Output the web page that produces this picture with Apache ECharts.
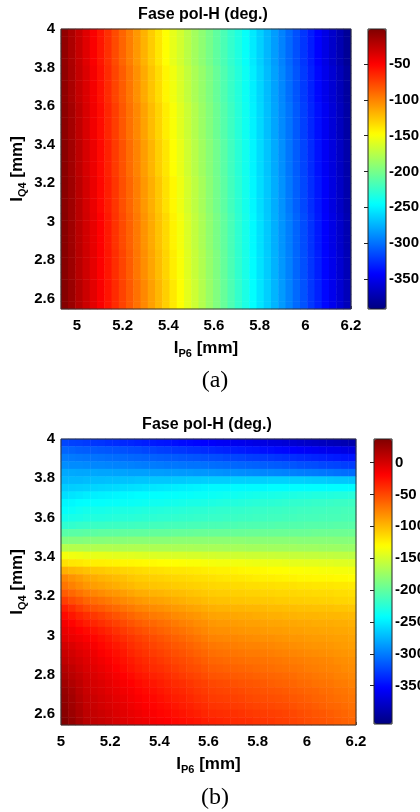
<!DOCTYPE html>
<html>
<head>
<meta charset="utf-8">
<title>Fase pol-H</title>
<script src="https://cdn.jsdelivr.net/npm/echarts@6.0.0/dist/echarts.min.js"></script>
<style>
  html, body { margin: 0; padding: 0; background: #fff; }
  #main { width: 420px; height: 812px; }
</style>
</head>
<body>
<div id="main"></div>
<script>
// axis ticks
const xTicks = [5, 5.2, 5.4, 5.6, 5.8, 6, 6.2];
const yTicks = [2.6, 2.8, 3, 3.2, 3.4, 3.6, 3.8, 4];
const cbTicksA = [-50, -100, -150, -200, -250, -300, -350];
const cbTicksB = [0, -50, -100, -150, -200, -250, -300, -350];

// axis extents
const xRangeA = [4.93, 6.2];
const xRangeB = [5, 6.2];
const yRange = [2.545, 4];
const cbRangeA = [-392, -1];
const cbRangeB = [-410, 37];

// phase (deg.), rows from top (I_Q4 = 4) to bottom, columns from left to right
const phaseA = [
  [-8,-18,-28,-38,-48,-58,-68,-78,-88,-98,-108,-118,-128,-138,-148,-157,-165,-174,-183,-191,-200,-209,-217,-226,-234,-243,-253,-263,-273,-283,-293,-303,-313,-323,-333,-343,-353,-363,-373,-383],
  [-8,-18,-28,-38,-48,-58,-68,-78,-88,-98,-108,-118,-128,-138,-148,-157,-165,-174,-183,-191,-200,-209,-217,-226,-234,-243,-253,-263,-273,-283,-293,-303,-313,-323,-333,-343,-353,-363,-373,-383],
  [-8,-18,-28,-38,-48,-58,-68,-78,-88,-98,-108,-118,-128,-138,-148,-157,-165,-174,-183,-191,-200,-209,-217,-226,-234,-243,-253,-263,-273,-283,-293,-303,-313,-323,-333,-343,-353,-363,-373,-383],
  [-8,-18,-28,-38,-48,-58,-68,-78,-88,-98,-108,-118,-128,-138,-148,-157,-165,-174,-183,-191,-200,-209,-217,-226,-234,-243,-253,-263,-273,-283,-293,-303,-313,-323,-333,-343,-353,-363,-373,-383],
  [-8,-18,-28,-38,-48,-58,-68,-78,-88,-98,-108,-118,-128,-138,-148,-157,-165,-174,-183,-191,-200,-209,-217,-226,-234,-243,-253,-263,-273,-283,-293,-303,-313,-323,-333,-343,-353,-363,-373,-383],
  [-7,-17,-27,-36,-46,-56,-66,-76,-85,-95,-105,-115,-125,-134,-144,-153,-162,-171,-180,-188,-197,-206,-215,-224,-232,-241,-251,-261,-271,-281,-291,-301,-311,-321,-331,-341,-351,-360,-370,-380],
  [-7,-17,-27,-36,-46,-56,-66,-76,-85,-95,-105,-115,-125,-134,-144,-153,-162,-171,-180,-188,-197,-206,-215,-224,-232,-241,-251,-261,-271,-281,-291,-301,-311,-321,-331,-341,-351,-360,-370,-380],
  [-7,-17,-27,-36,-46,-56,-66,-76,-85,-95,-105,-115,-125,-134,-144,-153,-162,-171,-180,-188,-197,-206,-215,-224,-232,-241,-251,-261,-271,-281,-291,-301,-311,-321,-331,-341,-351,-360,-370,-380],
  [-7,-17,-27,-36,-46,-56,-66,-76,-85,-95,-105,-115,-125,-134,-144,-153,-162,-171,-180,-188,-197,-206,-215,-224,-232,-241,-251,-261,-271,-281,-291,-301,-311,-321,-331,-341,-351,-360,-370,-380],
  [-7,-17,-27,-36,-46,-56,-66,-76,-85,-95,-105,-115,-125,-134,-144,-153,-162,-171,-180,-188,-197,-206,-215,-224,-232,-241,-251,-261,-271,-281,-291,-301,-311,-321,-331,-341,-351,-360,-370,-380],
  [-6,-15,-25,-35,-45,-54,-64,-73,-83,-93,-102,-112,-122,-131,-141,-150,-159,-168,-177,-186,-195,-204,-213,-222,-231,-240,-250,-260,-270,-280,-290,-299,-309,-319,-329,-338,-348,-358,-368,-378],
  [-6,-15,-25,-35,-45,-54,-64,-73,-83,-93,-102,-112,-122,-131,-141,-150,-159,-168,-177,-186,-195,-204,-213,-222,-231,-240,-250,-260,-270,-280,-290,-299,-309,-319,-329,-338,-348,-358,-368,-378],
  [-6,-15,-25,-35,-45,-54,-64,-73,-83,-93,-102,-112,-122,-131,-141,-150,-159,-168,-177,-186,-195,-204,-213,-222,-231,-240,-250,-260,-270,-280,-290,-299,-309,-319,-329,-338,-348,-358,-368,-378],
  [-6,-15,-25,-35,-45,-54,-64,-73,-83,-93,-102,-112,-122,-131,-141,-150,-159,-168,-177,-186,-195,-204,-213,-222,-231,-240,-250,-260,-270,-280,-290,-299,-309,-319,-329,-338,-348,-358,-368,-378],
  [-6,-15,-25,-35,-45,-54,-64,-73,-83,-93,-102,-112,-122,-131,-141,-150,-159,-168,-177,-186,-195,-204,-213,-222,-231,-240,-250,-260,-270,-280,-290,-299,-309,-319,-329,-338,-348,-358,-368,-378],
  [-5,-14,-24,-34,-43,-53,-62,-72,-81,-91,-100,-110,-119,-129,-138,-148,-156,-166,-175,-184,-193,-202,-211,-221,-230,-239,-249,-259,-268,-278,-288,-298,-308,-317,-327,-337,-347,-356,-366,-376],
  [-5,-14,-24,-34,-43,-53,-62,-72,-81,-91,-100,-110,-119,-129,-138,-148,-156,-166,-175,-184,-193,-202,-211,-221,-230,-239,-249,-259,-268,-278,-288,-298,-308,-317,-327,-337,-347,-356,-366,-376],
  [-5,-14,-24,-34,-43,-53,-62,-72,-81,-91,-100,-110,-119,-129,-138,-148,-156,-166,-175,-184,-193,-202,-211,-221,-230,-239,-249,-259,-268,-278,-288,-298,-308,-317,-327,-337,-347,-356,-366,-376],
  [-5,-14,-24,-34,-43,-53,-62,-72,-81,-91,-100,-110,-119,-129,-138,-148,-156,-166,-175,-184,-193,-202,-211,-221,-230,-239,-249,-259,-268,-278,-288,-298,-308,-317,-327,-337,-347,-356,-366,-376],
  [-5,-14,-24,-34,-43,-53,-62,-72,-81,-91,-100,-110,-119,-129,-138,-148,-156,-166,-175,-184,-193,-202,-211,-221,-230,-239,-249,-259,-268,-278,-288,-298,-308,-317,-327,-337,-347,-356,-366,-376],
  [-5,-13,-23,-33,-42,-52,-61,-70,-80,-89,-98,-108,-117,-126,-136,-145,-154,-164,-173,-182,-192,-201,-210,-220,-229,-238,-248,-258,-267,-277,-287,-297,-307,-316,-326,-335,-345,-355,-365,-375],
  [-5,-13,-23,-33,-42,-52,-61,-70,-80,-89,-98,-108,-117,-126,-136,-145,-154,-164,-173,-182,-192,-201,-210,-220,-229,-238,-248,-258,-267,-277,-287,-297,-307,-316,-326,-335,-345,-355,-365,-375],
  [-5,-13,-23,-33,-42,-52,-61,-70,-80,-89,-98,-108,-117,-126,-136,-145,-154,-164,-173,-182,-192,-201,-210,-220,-229,-238,-248,-258,-267,-277,-287,-297,-307,-316,-326,-335,-345,-355,-365,-375],
  [-5,-13,-23,-33,-42,-52,-61,-70,-80,-89,-98,-108,-117,-126,-136,-145,-154,-164,-173,-182,-192,-201,-210,-220,-229,-238,-248,-258,-267,-277,-287,-297,-307,-316,-326,-335,-345,-355,-365,-375],
  [-5,-13,-23,-33,-42,-52,-61,-70,-80,-89,-98,-108,-117,-126,-136,-145,-154,-164,-173,-182,-192,-201,-210,-220,-229,-238,-248,-258,-267,-277,-287,-297,-307,-316,-326,-335,-345,-355,-365,-375],
  [-4,-13,-23,-32,-41,-50,-59,-69,-78,-87,-96,-106,-115,-124,-133,-143,-152,-162,-171,-180,-190,-199,-208,-218,-228,-237,-247,-257,-266,-276,-286,-295,-305,-314,-324,-334,-344,-353,-363,-373],
  [-4,-13,-23,-32,-41,-50,-59,-69,-78,-87,-96,-106,-115,-124,-133,-143,-152,-162,-171,-180,-190,-199,-208,-218,-228,-237,-247,-257,-266,-276,-286,-295,-305,-314,-324,-334,-344,-353,-363,-373],
  [-4,-13,-23,-32,-41,-50,-59,-69,-78,-87,-96,-106,-115,-124,-133,-143,-152,-162,-171,-180,-190,-199,-208,-218,-228,-237,-247,-257,-266,-276,-286,-295,-305,-314,-324,-334,-344,-353,-363,-373],
  [-4,-13,-23,-32,-41,-50,-59,-69,-78,-87,-96,-106,-115,-124,-133,-143,-152,-162,-171,-180,-190,-199,-208,-218,-228,-237,-247,-257,-266,-276,-286,-295,-305,-314,-324,-334,-344,-353,-363,-373],
  [-4,-13,-23,-32,-41,-50,-59,-69,-78,-87,-96,-106,-115,-124,-133,-143,-152,-162,-171,-180,-190,-199,-208,-218,-228,-237,-247,-257,-266,-276,-286,-295,-305,-314,-324,-334,-344,-353,-363,-373],
  [-4,-12,-22,-31,-40,-49,-58,-67,-76,-85,-95,-104,-113,-122,-131,-141,-150,-160,-169,-178,-188,-197,-207,-217,-227,-236,-246,-256,-265,-275,-285,-294,-304,-313,-323,-332,-342,-351,-361,-371],
  [-4,-12,-22,-31,-40,-49,-58,-67,-76,-85,-95,-104,-113,-122,-131,-141,-150,-160,-169,-178,-188,-197,-207,-217,-227,-236,-246,-256,-265,-275,-285,-294,-304,-313,-323,-332,-342,-351,-361,-371],
  [-4,-12,-22,-31,-40,-49,-58,-67,-76,-85,-95,-104,-113,-122,-131,-141,-150,-160,-169,-178,-188,-197,-207,-217,-227,-236,-246,-256,-265,-275,-285,-294,-304,-313,-323,-332,-342,-351,-361,-371],
  [-4,-12,-22,-31,-40,-49,-58,-67,-76,-85,-95,-104,-113,-122,-131,-141,-150,-160,-169,-178,-188,-197,-207,-217,-227,-236,-246,-256,-265,-275,-285,-294,-304,-313,-323,-332,-342,-351,-361,-371],
  [-3,-11,-21,-30,-39,-48,-57,-66,-75,-84,-93,-102,-111,-120,-129,-139,-148,-158,-167,-177,-187,-196,-206,-216,-226,-235,-245,-255,-264,-274,-284,-293,-303,-312,-322,-331,-341,-350,-360,-370],
  [-3,-11,-21,-30,-39,-48,-57,-66,-75,-84,-93,-102,-111,-120,-129,-139,-148,-158,-167,-177,-187,-196,-206,-216,-226,-235,-245,-255,-264,-274,-284,-293,-303,-312,-322,-331,-341,-350,-360,-370],
  [-3,-11,-21,-30,-39,-48,-57,-66,-75,-84,-93,-102,-111,-120,-129,-139,-148,-158,-167,-177,-187,-196,-206,-216,-226,-235,-245,-255,-264,-274,-284,-293,-303,-312,-322,-331,-341,-350,-360,-370],
  [-3,-11,-21,-30,-39,-48,-57,-66,-75,-84,-93,-102,-111,-120,-129,-139,-148,-158,-167,-177,-187,-196,-206,-216,-226,-235,-245,-255,-264,-274,-284,-293,-303,-312,-322,-331,-341,-350,-360,-370]
];

const phaseB = [
  [-324,-326,-327,-329,-331,-332,-334,-335,-337,-338,-340,-342,-343,-345,-346,-348,-350,-351,-353,-354,-356,-358,-359,-361,-362,-364,-366,-367,-369,-370,-372,-374,-376,-378,-380,-382,-384,-386,-388,-390],
  [-310,-311,-313,-314,-315,-316,-317,-318,-319,-321,-322,-324,-325,-327,-328,-330,-331,-333,-334,-336,-337,-339,-340,-342,-343,-345,-346,-348,-349,-351,-352,-354,-356,-357,-359,-361,-363,-364,-366,-368],
  [-300,-301,-302,-303,-304,-305,-306,-307,-308,-309,-310,-311,-312,-313,-314,-315,-316,-317,-318,-319,-320,-321,-323,-324,-325,-327,-328,-329,-330,-332,-333,-334,-336,-337,-339,-340,-342,-343,-345,-346],
  [-292,-293,-293,-294,-295,-295,-296,-297,-297,-298,-299,-300,-300,-301,-302,-302,-303,-304,-304,-305,-306,-307,-308,-309,-310,-311,-312,-313,-314,-315,-316,-317,-319,-320,-321,-323,-324,-325,-327,-328],
  [-280,-280,-281,-281,-281,-282,-282,-283,-283,-284,-284,-284,-285,-285,-286,-286,-287,-287,-288,-288,-289,-290,-291,-291,-292,-293,-294,-295,-295,-296,-297,-298,-299,-300,-301,-302,-303,-305,-306,-307],
  [-274,-273,-273,-272,-271,-271,-270,-270,-269,-269,-268,-268,-267,-267,-267,-266,-266,-265,-265,-264,-264,-264,-264,-263,-263,-263,-263,-263,-262,-262,-262,-263,-263,-264,-265,-265,-266,-267,-267,-268],
  [-265,-264,-263,-262,-261,-260,-259,-258,-257,-256,-255,-254,-253,-252,-251,-250,-249,-248,-247,-246,-245,-245,-245,-244,-244,-244,-244,-244,-243,-243,-243,-243,-243,-243,-243,-243,-243,-243,-243,-243],
  [-256,-254,-252,-250,-249,-248,-247,-246,-245,-244,-243,-243,-242,-242,-241,-241,-240,-240,-239,-239,-238,-237,-236,-236,-235,-234,-233,-232,-232,-231,-230,-230,-229,-229,-228,-228,-228,-227,-227,-226],
  [-246,-245,-243,-242,-241,-241,-240,-240,-239,-239,-238,-237,-236,-236,-235,-234,-233,-232,-232,-231,-230,-229,-228,-228,-227,-226,-225,-224,-224,-223,-222,-221,-221,-220,-219,-219,-218,-217,-217,-216],
  [-241,-239,-236,-234,-233,-233,-232,-231,-230,-230,-229,-228,-228,-227,-226,-226,-225,-224,-223,-223,-222,-221,-221,-220,-220,-219,-218,-218,-217,-217,-216,-216,-215,-215,-214,-214,-213,-213,-212,-212],
  [-234,-232,-231,-229,-228,-228,-227,-226,-225,-225,-224,-223,-223,-222,-222,-221,-220,-220,-219,-219,-218,-218,-217,-217,-216,-216,-215,-215,-214,-214,-213,-213,-212,-212,-212,-211,-211,-211,-210,-210],
  [-222,-221,-219,-218,-217,-217,-216,-216,-215,-215,-214,-214,-213,-213,-212,-212,-212,-211,-211,-210,-210,-210,-209,-209,-208,-208,-208,-207,-207,-206,-206,-206,-206,-205,-205,-205,-205,-204,-204,-204],
  [-204,-203,-203,-202,-202,-201,-201,-201,-200,-200,-200,-200,-199,-199,-199,-198,-198,-198,-197,-197,-197,-197,-197,-197,-197,-196,-196,-196,-196,-196,-196,-196,-196,-196,-195,-195,-195,-195,-195,-195],
  [-186,-185,-185,-184,-184,-184,-183,-183,-183,-182,-182,-182,-182,-182,-182,-181,-181,-181,-181,-181,-181,-181,-181,-181,-181,-182,-182,-182,-182,-182,-182,-182,-183,-183,-183,-183,-183,-184,-184,-184],
  [-163,-164,-164,-165,-165,-165,-165,-166,-166,-166,-166,-166,-167,-167,-167,-168,-168,-168,-169,-169,-169,-169,-170,-170,-170,-171,-171,-171,-172,-172,-172,-172,-173,-173,-173,-174,-174,-174,-175,-175],
  [-135,-137,-138,-140,-141,-141,-142,-143,-144,-144,-145,-146,-146,-147,-147,-148,-148,-149,-149,-150,-150,-151,-151,-152,-152,-153,-153,-154,-154,-155,-155,-156,-156,-157,-157,-158,-158,-159,-159,-160],
  [-118,-120,-121,-123,-124,-124,-125,-126,-127,-127,-128,-129,-129,-130,-131,-131,-132,-133,-133,-134,-135,-136,-136,-137,-137,-138,-139,-139,-140,-140,-141,-142,-142,-143,-143,-144,-144,-145,-145,-146],
  [-96,-99,-101,-104,-106,-107,-109,-110,-112,-113,-115,-116,-117,-118,-119,-120,-120,-121,-122,-123,-124,-125,-125,-126,-127,-128,-128,-129,-130,-130,-131,-132,-132,-133,-133,-134,-134,-135,-135,-136],
  [-78,-83,-87,-92,-94,-97,-99,-101,-103,-106,-108,-109,-110,-111,-112,-113,-114,-115,-116,-117,-118,-119,-120,-120,-121,-122,-123,-124,-124,-125,-126,-126,-127,-127,-128,-128,-128,-129,-129,-130],
  [-70,-75,-80,-85,-88,-90,-93,-95,-98,-100,-103,-104,-105,-106,-107,-108,-109,-110,-111,-112,-113,-114,-114,-115,-115,-116,-116,-117,-117,-118,-118,-118,-119,-119,-120,-120,-120,-121,-121,-122],
  [-59,-64,-69,-74,-77,-80,-83,-85,-88,-91,-94,-95,-97,-98,-100,-101,-102,-104,-105,-107,-108,-109,-109,-110,-110,-111,-111,-112,-112,-113,-113,-113,-114,-114,-115,-115,-115,-116,-116,-117],
  [-46,-52,-57,-63,-66,-69,-72,-76,-79,-82,-85,-87,-89,-90,-92,-94,-96,-98,-99,-101,-103,-104,-104,-105,-105,-106,-106,-107,-107,-108,-108,-109,-109,-110,-110,-111,-111,-112,-112,-113],
  [-32,-38,-45,-51,-55,-58,-62,-65,-69,-72,-76,-78,-80,-82,-84,-86,-88,-90,-92,-94,-96,-97,-97,-98,-98,-99,-99,-100,-101,-101,-102,-102,-103,-103,-104,-104,-104,-105,-105,-106],
  [-23,-28,-34,-39,-43,-47,-51,-55,-59,-63,-67,-69,-72,-74,-76,-79,-81,-83,-85,-88,-90,-91,-91,-92,-93,-93,-94,-95,-96,-96,-97,-97,-98,-98,-98,-99,-99,-99,-100,-100],
  [-15,-20,-26,-31,-35,-39,-43,-47,-51,-55,-59,-62,-64,-67,-69,-72,-75,-77,-80,-82,-85,-86,-86,-87,-88,-89,-89,-90,-91,-91,-92,-92,-93,-93,-94,-94,-94,-95,-95,-96],
  [-10,-14,-19,-23,-27,-31,-35,-40,-44,-48,-52,-55,-58,-61,-64,-67,-69,-72,-75,-78,-81,-82,-82,-83,-84,-85,-85,-86,-87,-87,-88,-89,-89,-90,-90,-91,-91,-92,-92,-93],
  [-6,-10,-13,-17,-21,-25,-29,-34,-38,-42,-46,-49,-52,-55,-58,-61,-64,-67,-70,-73,-76,-77,-78,-78,-79,-80,-81,-82,-82,-83,-84,-85,-85,-86,-87,-87,-88,-89,-89,-90],
  [1,-3,-8,-12,-16,-21,-25,-29,-33,-38,-42,-45,-48,-51,-54,-57,-59,-62,-65,-68,-71,-72,-73,-74,-75,-76,-76,-77,-78,-79,-80,-81,-82,-83,-84,-84,-85,-86,-87,-88],
  [5,1,-4,-8,-12,-17,-21,-25,-29,-34,-38,-41,-44,-47,-50,-53,-55,-58,-61,-64,-67,-68,-69,-70,-71,-72,-72,-73,-74,-75,-76,-77,-78,-79,-80,-81,-82,-83,-84,-85],
  [9,4,0,-5,-9,-13,-17,-22,-26,-30,-34,-37,-40,-43,-46,-49,-51,-54,-57,-60,-63,-64,-65,-66,-67,-68,-68,-69,-70,-71,-72,-73,-74,-75,-76,-77,-78,-80,-81,-82],
  [14,9,3,-2,-6,-10,-14,-19,-23,-27,-31,-34,-37,-39,-42,-45,-48,-51,-53,-56,-59,-60,-61,-62,-63,-64,-65,-66,-67,-68,-69,-70,-71,-73,-74,-75,-76,-77,-79,-80],
  [18,12,7,1,-3,-7,-11,-15,-19,-23,-27,-30,-33,-35,-38,-41,-44,-47,-49,-52,-55,-56,-57,-58,-59,-60,-61,-62,-63,-64,-65,-66,-68,-69,-71,-72,-73,-75,-76,-78],
  [23,16,10,3,-1,-4,-8,-12,-16,-19,-23,-26,-28,-31,-34,-37,-39,-42,-45,-47,-50,-51,-52,-54,-55,-56,-57,-58,-60,-61,-62,-63,-65,-66,-68,-69,-70,-72,-73,-75],
  [27,20,12,5,1,-2,-6,-9,-13,-16,-20,-23,-25,-28,-31,-34,-36,-39,-42,-44,-47,-48,-49,-50,-51,-53,-54,-55,-56,-57,-58,-60,-61,-63,-64,-66,-67,-69,-70,-72],
  [29,22,14,7,4,0,-3,-7,-10,-14,-17,-20,-22,-25,-28,-31,-33,-36,-39,-41,-44,-45,-46,-47,-48,-50,-51,-52,-53,-54,-55,-57,-58,-60,-62,-63,-65,-67,-68,-70],
  [31,23,16,8,5,1,-2,-5,-8,-12,-15,-18,-20,-23,-25,-28,-31,-33,-36,-38,-41,-42,-43,-44,-45,-47,-48,-49,-50,-51,-52,-54,-56,-57,-59,-61,-63,-64,-66,-68],
  [33,25,18,10,7,4,1,-3,-6,-9,-12,-15,-17,-20,-22,-25,-27,-30,-32,-35,-37,-38,-39,-40,-41,-43,-44,-45,-46,-47,-48,-50,-52,-54,-56,-57,-59,-61,-63,-65],
  [36,28,20,12,9,6,3,-1,-4,-7,-10,-12,-15,-17,-19,-22,-24,-26,-28,-31,-33,-34,-36,-37,-38,-39,-41,-42,-43,-45,-46,-48,-50,-52,-54,-55,-57,-59,-61,-63]
];

const JET = ['#000080', '#0000ff', '#0080ff', '#00ffff', '#80ff80', '#ffff00', '#ff8000', '#ff0000', '#800000'];
const FONT = '"Liberation Sans", Arial, Helvetica, sans-serif';
const SERIF = '"Liberation Serif", "Times New Roman", serif';

function toCells(rows) {
    const out = [];
    rows.forEach((row, r) => {
        row.forEach((v, c) => out.push([c, rows.length - 1 - r, v]));
    });
    return out;
}
const indexList = (n) => Array.from({ length: n }, (_, i) => String(i));

const nameRich = {
    n: { fontFamily: FONT, fontSize: 17, fontWeight: 'bold', color: '#000', lineHeight: 22 },
    s: { fontFamily: FONT, fontSize: 11, fontWeight: 'bold', color: '#000', lineHeight: 10, padding: [12, 0, 0, 0] },
};

// one heatmap panel: hidden category axes carry the cells, value axes carry the ticks
function panelAxes(gridIndex, xRange, nCols, nRows, yName) {
    const x = [
        { type: 'category', gridIndex, position: 'top', data: indexList(nCols), show: false },
        {
            type: 'value', gridIndex, position: 'bottom', min: xRange[0], max: xRange[1],
            axisLine: { show: false },
            splitLine: { show: false },
            axisTick: { inside: true, length: 3, customValues: xTicks, lineStyle: { color: '#555' } },
            axisLabel: { customValues: xTicks, margin: 9, fontFamily: FONT, fontSize: 15, fontWeight: 'bold', color: '#000' },
            name: '{n|I}{s|P6}{n| [mm]}', nameLocation: 'middle', nameGap: 28, nameMoveOverlap: false,
            nameTextStyle: { rich: nameRich },
        },
    ];
    const y = [
        { type: 'category', gridIndex, position: 'right', data: indexList(nRows), show: false },
        {
            type: 'value', gridIndex, position: 'left', min: yRange[0], max: yRange[1],
            axisLine: { show: false },
            splitLine: { show: false },
            axisTick: { inside: true, length: 3, customValues: yTicks, lineStyle: { color: '#555' } },
            axisLabel: { customValues: yTicks, margin: 6, fontFamily: FONT, fontSize: 15, fontWeight: 'bold', color: '#000' },
            name: yName, nameLocation: 'middle', nameGap: 33, nameRotate: 90, nameMoveOverlap: false,
            nameTextStyle: { rich: nameRich },
        },
    ];
    return { x, y };
}

function colorbarAxes(gridIndex, range, ticks) {
    return {
        x: { type: 'value', gridIndex, show: false, min: 0, max: 1 },
        y: {
            type: 'value', gridIndex, position: 'right', min: range[0], max: range[1],
            axisLine: { show: false },
            splitLine: { show: false },
            axisTick: { inside: true, length: 4, customValues: ticks, lineStyle: { color: '#222' } },
            axisLabel: { customValues: ticks, margin: 3, fontFamily: FONT, fontSize: 15, fontWeight: 'bold', color: '#000' },
        },
    };
}

const pA = panelAxes(0, xRangeA, phaseA[0].length, phaseA.length, '{n|I}{s|Q4}{n| [mm]}');
const pB = panelAxes(1, xRangeB, phaseB[0].length, phaseB.length, '{n|I}{s|Q4}{n| [mm]}');
const cA = colorbarAxes(2, cbRangeA, cbTicksA);
const cB = colorbarAxes(3, cbRangeB, cbTicksB);

const chart = echarts.init(document.getElementById('main'), null, { renderer: 'canvas' });

const titleStyle = { fontFamily: FONT, fontSize: 16, fontWeight: 'bold', color: '#000' };
const captionStyle = { fontFamily: SERIF, fontSize: 24, fontWeight: 'normal', color: '#000' };
const gridBase = { show: true, borderWidth: 1, z: 10, containLabel: false, outerBoundsMode: 'none' };

const option = {
    backgroundColor: '#fff',
    animation: false,
    title: [
        { text: 'Fase pol-H (deg.)', left: 203, top: 7, textAlign: 'center', padding: 0, textStyle: titleStyle },
        { text: '(a)', left: 215, top: 369, textAlign: 'center', padding: 0, textStyle: captionStyle },
        { text: 'Fase pol-H (deg.)', left: 207, top: 417, textAlign: 'center', padding: 0, textStyle: titleStyle },
        { text: '(b)', left: 215, top: 786, textAlign: 'center', padding: 0, textStyle: captionStyle },
    ],
    grid: [
        { ...gridBase, left: 61, top: 29, width: 290, height: 280, borderColor: '#333' },
        { ...gridBase, left: 61, top: 439, width: 295, height: 286, borderColor: '#333' },
        { ...gridBase, left: 368, top: 29, width: 18, height: 280, borderColor: '#222' },
        { ...gridBase, left: 374, top: 439, width: 18, height: 285, borderColor: '#222' },
    ],
    xAxis: [...pA.x, ...pB.x, cA.x, cB.x],
    yAxis: [...pA.y, ...pB.y, cA.y, cB.y],
    visualMap: [
        {
            type: 'continuous', seriesIndex: 0, min: cbRangeA[0], max: cbRangeA[1],
            calculable: false, realtime: false, padding: 0,
            left: 368, top: 29, itemWidth: 18, itemHeight: 280,
            inRange: { color: JET },
        },
        {
            type: 'continuous', seriesIndex: 1, min: cbRangeB[0], max: cbRangeB[1],
            calculable: false, realtime: false, padding: 0,
            left: 374, top: 439, itemWidth: 18, itemHeight: 285,
            inRange: { color: JET },
        },
    ],
    series: [
        {
            type: 'heatmap', xAxisIndex: 0, yAxisIndex: 0, data: toCells(phaseA),
            progressive: 0, emphasis: { disabled: true },
        },
        {
            type: 'heatmap', xAxisIndex: 2, yAxisIndex: 2, data: toCells(phaseB),
            progressive: 0, emphasis: { disabled: true },
        },
    ],
};

chart.setOption(option);
window.addEventListener('resize', () => chart.resize());
</script>
</body>
</html>
